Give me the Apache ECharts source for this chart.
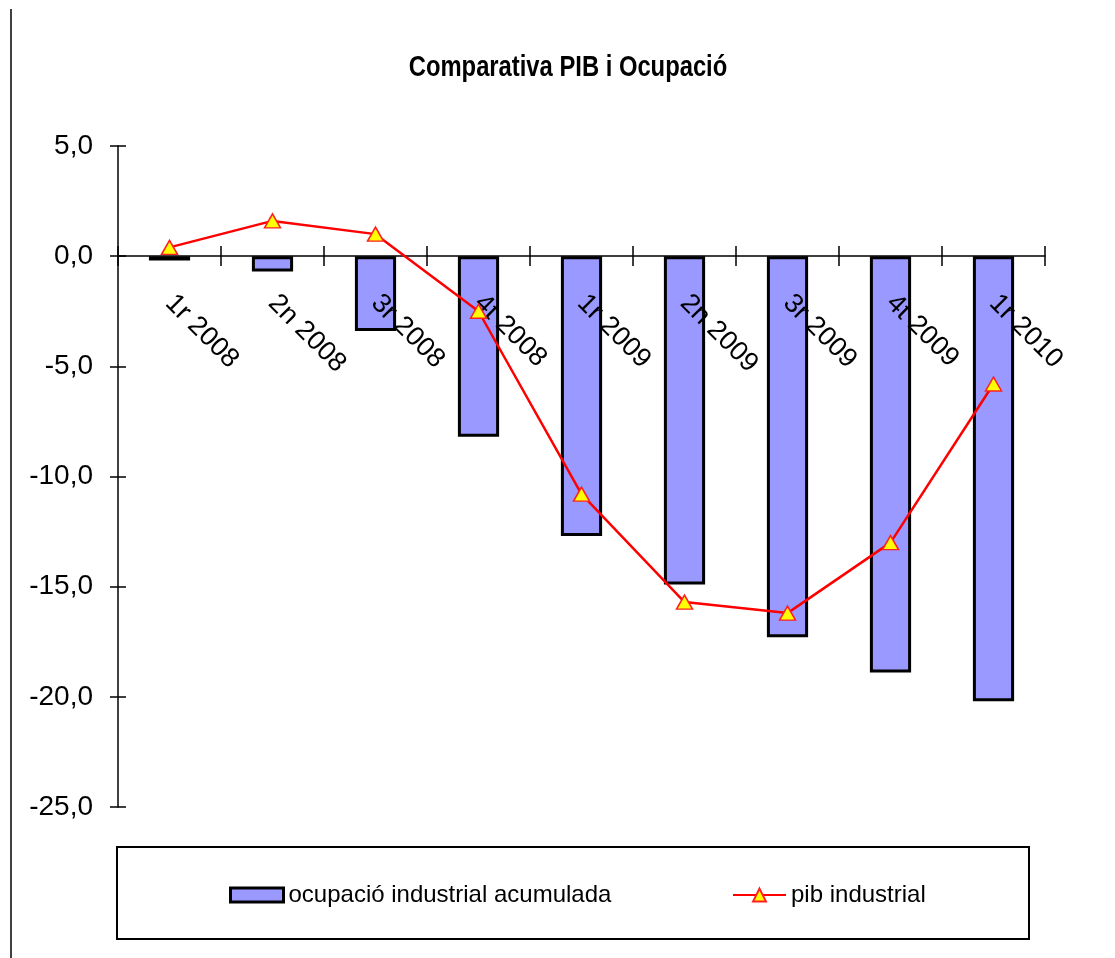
<!DOCTYPE html>
<html>
<head>
<meta charset="utf-8">
<script src="https://cdn.jsdelivr.net/npm/echarts@6/dist/echarts.min.js"></script>
<style>
  html, body { margin: 0; padding: 0; background: #fff; }
  #main { width: 1115px; height: 958px; }
</style>
</head>
<body>
<div id="main"></div>
<script>
// dades llegides del gràfic
const quarters = ['1r 2008', '2n 2008', '3r 2008', '4t 2008', '1r 2009', '2n 2009', '3r 2009', '4t 2009', '1r 2010']
const ocupacio = [-0.2, -0.7, -3.4, -8.2, -12.7, -14.9, -17.3, -18.9, -20.2]
const pib = [0.4, 1.6, 1.0, -2.5, -10.8, -15.7, -16.2, -13.0, -5.8]
const yTicks = [5, 0, -5, -10, -15, -20, -25]

const barName = 'ocupació industrial acumulada'
const lineName = 'pib industrial'
const font = 'Liberation Sans, Arial, sans-serif'
// l'eix de categories es dibuixa a l'alçada del zero
const zeroOffset = -551

const chart = echarts.init(document.querySelector('#main'))
const option = {
  backgroundColor: '#fff',
  animation: false,
  grid: {
    left: 118,
    right: 70,
    top: 146,
    bottom: 151,
    outerBoundsMode: 'none',
  },
  // dues llegendes per col·locar cada element com a l'original
  legend: [
    {
      data: [{ name: barName, icon: 'rect', itemStyle: { borderWidth: 3, borderColor: '#000' } }],
      left: 229,
      top: 883,
      padding: 0,
      itemWidth: 53,
      itemHeight: 14,
      textStyle: { fontFamily: font, fontSize: 24, color: '#000' },
    },
    {
      data: [lineName],
      left: 732,
      top: 883,
      padding: 0,
      itemWidth: 53,
      itemHeight: 16,
      textStyle: { fontFamily: font, fontSize: 24, color: '#000' },
    },
  ],
  xAxis: [
    {
      type: 'category',
      data: quarters,
      offset: zeroOffset,
      z: 10,
      axisLine: { onZero: false, lineStyle: { color: '#000', width: 1.5 } },
      axisTick: { show: true, length: 10, lineStyle: { color: '#000', width: 1.5 } },
      axisLabel: {
        interval: 0,
        rotate: -45,
        margin: 43,
        fontFamily: font,
        fontSize: 27,
        color: '#000',
      },
    },
    {
      // marques creuades cap amunt
      type: 'category',
      data: quarters,
      position: 'bottom',
      offset: zeroOffset,
      z: 10,
      axisLine: { show: false, onZero: false },
      axisTick: { show: true, inside: true, length: 10, lineStyle: { color: '#000', width: 1.5 } },
      axisLabel: { show: false },
    },
  ],
  yAxis: [
    {
      type: 'value',
      min: yTicks[yTicks.length - 1],
      max: yTicks[0],
      interval: 5,
      splitLine: { show: false },
      axisLine: { show: true, lineStyle: { color: '#000', width: 1.5 } },
      axisTick: { show: true, length: 8, lineStyle: { color: '#000', width: 1.5 } },
      axisLabel: {
        margin: 25,
        fontFamily: font,
        fontSize: 28,
        color: '#000',
        formatter: v => v.toFixed(1).replace('.', ','),
      },
    },
    {
      type: 'value',
      position: 'left',
      min: yTicks[yTicks.length - 1],
      max: yTicks[0],
      interval: 5,
      splitLine: { show: false },
      axisLine: { show: false },
      axisTick: { show: true, inside: true, length: 8, lineStyle: { color: '#000', width: 1.5 } },
      axisLabel: { show: false },
    },
  ],
  series: [
    {
      name: barName,
      type: 'bar',
      data: ocupacio,
      barWidth: '40%',
      itemStyle: {
        color: '#9999ff',
        borderColor: '#000',
        borderWidth: 3,
      },
    },
    {
      name: lineName,
      type: 'line',
      data: pib,
      z: 15,
      symbol: 'triangle',
      symbolSize: [16, 14],
      lineStyle: { color: '#ff0000', width: 2.5 },
      itemStyle: { color: '#ffff00', borderColor: '#ff2020', borderWidth: 1.5 },
    },
  ],
  graphic: [
    {
      // títol, estret com a l'original
      type: 'text',
      x: 568,
      y: 53,
      scaleX: 0.82,
      style: {
        text: 'Comparativa PIB i Ocupació',
        fontFamily: font,
        fontWeight: 'bold',
        fontSize: 29,
        fill: '#000',
        textAlign: 'center',
        textVerticalAlign: 'top',
      },
    },
    {
      // marc de la llegenda
      type: 'rect',
      shape: { x: 117, y: 847, width: 912, height: 92 },
      style: { fill: 'none', stroke: '#000', lineWidth: 2 },
    },
    {
      // vora esquerra de l'àrea del gràfic
      type: 'line',
      shape: { x1: 11, y1: 9, x2: 11, y2: 958 },
      style: { stroke: '#000', lineWidth: 1.5 },
    },
  ],
}
chart.setOption(option)
</script>
</body>
</html>
